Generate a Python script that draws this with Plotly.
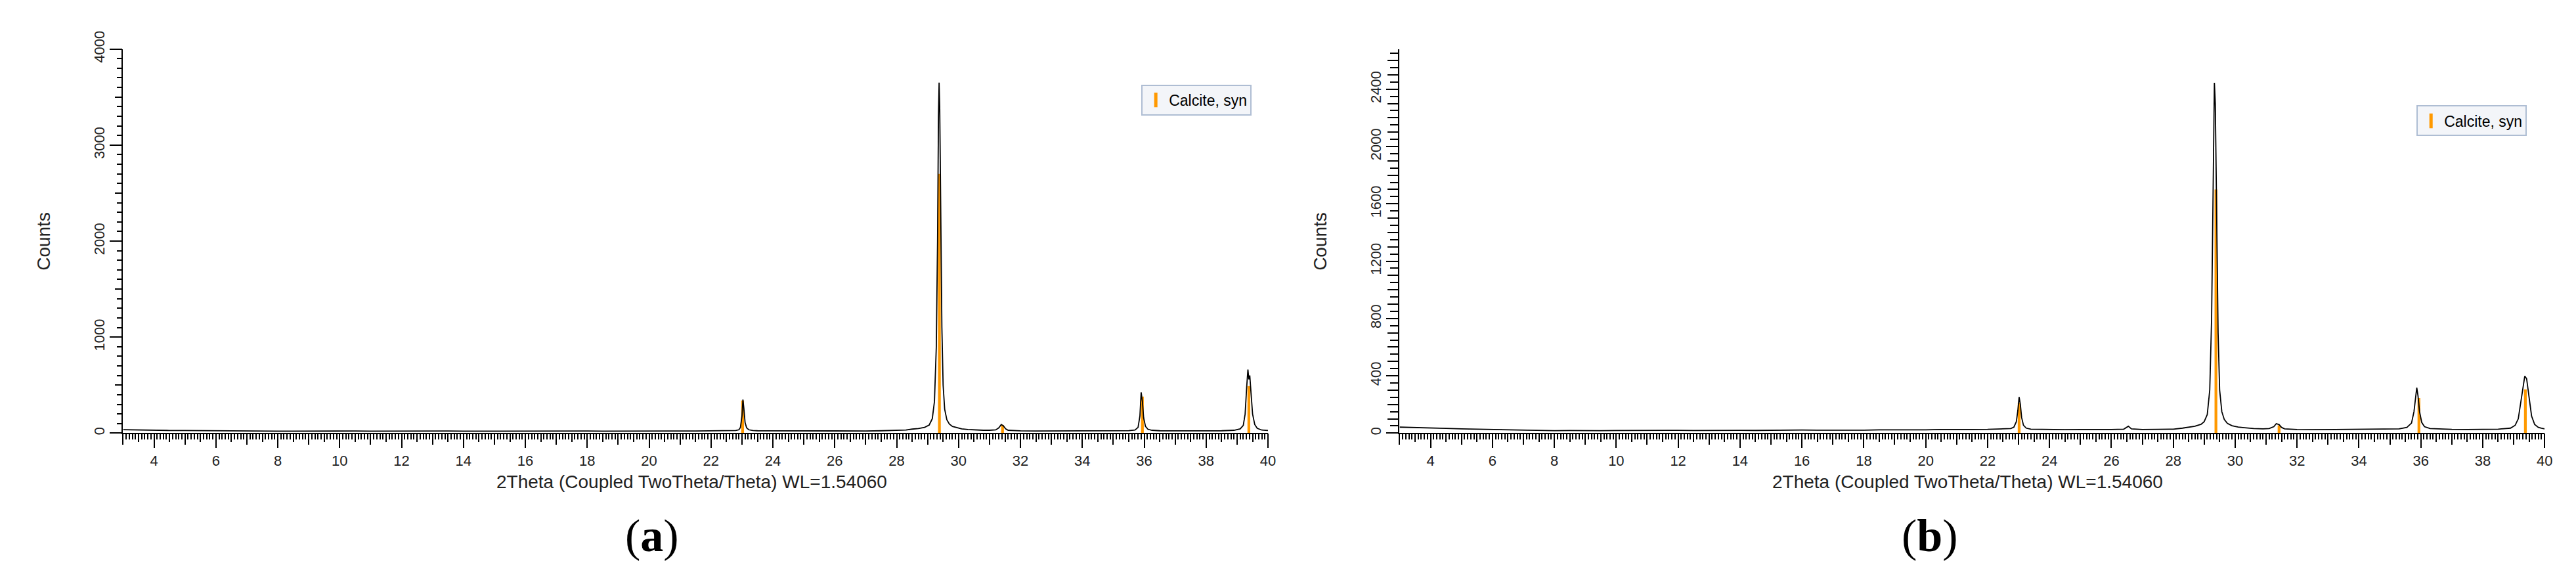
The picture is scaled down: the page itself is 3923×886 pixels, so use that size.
import plotly.graph_objects as go

# ---------------- data: panel (a) ----------------
two_theta_a = [3.0, 3.5, 4.0, 4.5, 5.0, 5.5, 6.0, 6.5, 7.0, 7.5, 8.0, 8.5, 9.0, 9.5, 10.0, 10.5,
               11.0, 11.5, 12.0, 12.5, 13.0, 13.5, 14.0, 14.5, 15.0, 15.5, 16.0, 16.5, 17.0, 17.5,
               18.0, 18.5, 19.0, 19.5, 20.0, 20.5, 21.0, 21.5, 22.0, 22.5,
               22.8, 22.9, 22.95, 23.0, 23.03, 23.06, 23.1, 23.15, 23.22, 23.35,
               23.5, 24.0, 24.5, 25.0, 25.5, 26.0, 26.5, 27.0, 27.5, 28.0, 28.3, 28.5, 28.7, 28.9,
               29.05, 29.15, 29.22, 29.28, 29.32, 29.35, 29.37, 29.39, 29.42, 29.46, 29.5, 29.55,
               29.62, 29.7, 29.8, 29.95, 30.1, 30.3, 30.5, 30.8, 31.0, 31.2, 31.3, 31.38, 31.45,
               31.52, 31.6, 31.8, 32.0, 32.5, 33.0, 33.5, 34.0, 34.5, 35.0, 35.5, 35.7, 35.8, 35.86,
               35.9, 35.94, 35.98, 36.04, 36.12, 36.25, 36.5, 37.0, 37.5, 38.0, 38.5, 38.9, 39.1,
               39.2, 39.26, 39.31, 39.35, 39.38, 39.41, 39.45, 39.5, 39.57, 39.65, 39.8, 40.0]
counts_a = [36, 32, 31, 28, 27, 25, 24, 22, 23, 21, 20, 21, 22, 21, 20, 22,
            20, 21, 22, 20, 21, 22, 20, 21, 22, 21, 20, 22, 21, 22,
            23, 21, 22, 23, 22, 24, 23, 22, 24, 25,
            27, 35, 60, 180, 350, 260, 110, 55, 35, 27,
            25, 24, 23, 24, 22, 23, 24, 23, 25, 27, 32, 42, 48, 60,
            85, 150, 330, 900, 2000, 3300, 3650, 3400, 2300, 1100, 500, 250,
            140, 95, 70, 55, 45, 38, 33, 30, 30, 34, 55, 90, 75,
            45, 30, 26, 24, 23, 24, 22, 23, 24, 23, 26, 32, 60, 180,
            424, 330, 160, 70, 40, 30, 25, 24, 23, 24, 25, 30, 45,
            80, 200, 480, 662, 560, 600, 420, 200, 90, 50, 32, 27]

# ---------------- data: panel (b) ----------------
two_theta_b = [3.0, 3.5, 4.0, 4.5, 5.0, 5.5, 6.0, 6.5, 7.0, 7.5, 8.0, 8.5, 9.0, 9.5, 10.0, 10.5,
               11.0, 11.5, 12.0, 12.5, 13.0, 13.5, 14.0, 14.5, 15.0, 15.5, 16.0, 16.5, 17.0, 17.5,
               18.0, 18.5, 19.0, 19.5, 20.0, 20.5, 21.0, 21.5, 22.0, 22.5,
               22.75, 22.85, 22.93, 22.98, 23.02, 23.06, 23.1, 23.16, 23.25, 23.4,
               23.7, 24.0, 24.5, 25.0, 25.5, 26.0, 26.4, 26.55, 26.65, 27.0, 27.5, 28.0, 28.3, 28.5,
               28.7, 28.9, 29.0, 29.1, 29.18, 29.24, 29.29, 29.33, 29.36, 29.4, 29.45, 29.5, 29.57,
               29.65, 29.75, 29.9, 30.1, 30.3, 30.6, 30.9, 31.1, 31.25, 31.33, 31.42, 31.5, 31.6,
               31.8, 32.0, 32.5, 33.0, 33.5, 34.0, 34.5, 35.0, 35.3, 35.55, 35.7, 35.78, 35.84,
               35.87, 35.91, 35.96, 36.03, 36.12, 36.3, 36.6, 37.0, 37.5, 38.0, 38.5, 38.9, 39.05,
               39.15, 39.22, 39.3, 39.36, 39.42, 39.5, 39.58, 39.68, 39.8, 39.9, 40.0]
counts_b = [42, 40, 36, 33, 30, 28, 25, 22, 20, 18, 17, 18, 16, 17, 18, 19,
            17, 19, 20, 18, 19, 21, 20, 19, 21, 20, 22, 21, 20, 22,
            21, 23, 22, 24, 23, 25, 24, 25, 26, 28,
            32, 42, 80, 160, 252, 200, 110, 55, 35, 28,
            26, 25, 24, 25, 24, 25, 28, 48, 30, 25, 26, 28, 35, 40,
            48, 62, 80, 130, 300, 800, 1700, 2444, 2300, 1500, 700, 300, 150,
            95, 68, 52, 42, 38, 32, 30, 32, 45, 66, 60, 40, 30,
            27, 25, 24, 25, 24, 25, 26, 27, 30, 40, 70, 150, 270,
            318, 260, 150, 75, 45, 32, 28, 26, 25, 26, 28, 35, 55,
            100, 200, 330, 398, 380, 250, 120, 60, 40, 34, 30]

# ---------------- reference pattern: Calcite, syn ----------------
stick_positions = [23.02, 29.38, 31.42, 35.94, 39.38]
stick_heights_a = [340, 2700, 85, 380, 490]
stick_heights_b = [212, 1700, 55, 245, 305]

phase_name = "Calcite, syn"
x_title = "2Theta (Coupled TwoTheta/Theta) WL=1.54060"
y_title = "Counts"
panel_labels = ["(<b>a</b>)", "(<b>b</b>)"]

W, H = 3923, 886
ORANGE = "#ff9900"
FONT = "Liberation Sans, Arial, sans-serif"

# pixel geometry -> paper fractions
def px(x):
    return x / W

def py(y):
    return (H - y) / H

xa_dom = [px(180), px(1929)]
xb_dom = [px(2130), px(3879)]
y_dom = [py(646), py(40)]

fig = go.Figure()

# diffractograms
fig.add_trace(go.Scatter(x=two_theta_a, y=counts_a, mode="lines",
                         line=dict(color="black", width=1.8), showlegend=False,
                         xaxis="x", yaxis="y"))
fig.add_trace(go.Scatter(x=two_theta_b, y=counts_b, mode="lines",
                         line=dict(color="black", width=1.8), showlegend=False,
                         xaxis="x2", yaxis="y2"))

# reference sticks
fig.add_trace(go.Bar(x=stick_positions, y=stick_heights_a, width=0.09,
                     marker=dict(color=ORANGE, line=dict(width=0)), showlegend=False,
                     xaxis="x", yaxis="y"))
fig.add_trace(go.Bar(x=stick_positions, y=stick_heights_b, width=0.09,
                     marker=dict(color=ORANGE, line=dict(width=0)), showlegend=False,
                     xaxis="x2", yaxis="y2"))

# legend entries
for lg in ["legend", "legend2"]:
    fig.add_trace(go.Scatter(x=[None], y=[None], mode="markers", name=phase_name,
                             marker=dict(symbol="line-ns-open", size=16, color=ORANGE,
                                         line=dict(color=ORANGE, width=5)),
                             legend=lg,
                             xaxis="x" if lg == "legend" else "x2",
                             yaxis="y" if lg == "legend" else "y2"))

# invisible helper traces for overlay tick axes
for xa, ya in [("x3", "y"), ("x5", "y"), ("x", "y3"),
               ("x4", "y2"), ("x6", "y2"), ("x2", "y4")]:
    fig.add_trace(go.Scatter(x=[None], y=[None], mode="markers", showlegend=False,
                             hoverinfo="skip", xaxis=xa, yaxis=ya))

tickfont = dict(family=FONT, size=22, color="#222")

def main_x(domain, anchor):
    return dict(domain=domain, anchor=anchor, range=[3, 40], type="linear",
                tick0=0, dtick=2, ticks="outside", ticklen=21, tickwidth=2,
                tickcolor="black", showline=True, linecolor="black", linewidth=2,
                showgrid=False, zeroline=False, tickfont=tickfont,
                minor=dict(dtick=0.1, tick0=0, ticks="outside", ticklen=8,
                           tickwidth=1.5, tickcolor="black", showgrid=False))

def overlay_x(over, anchor, dtick, ticklen):
    return dict(overlaying=over, anchor=anchor, range=[3, 40], type="linear",
                tick0=0, dtick=dtick, ticks="outside", ticklen=ticklen, tickwidth=2,
                tickcolor="black", showticklabels=False, showline=False,
                showgrid=False, zeroline=False, side="bottom")

def main_y(domain, anchor, rng, dtick, minor_dtick, minor_len):
    return dict(domain=domain, anchor=anchor, range=rng, type="linear",
                tick0=0, dtick=dtick, ticks="outside", ticklen=18, tickwidth=2,
                tickcolor="black", showline=True, linecolor="black", linewidth=2,
                showgrid=False, zeroline=False, tickfont=tickfont, tickangle=-90,
                minor=dict(dtick=minor_dtick, tick0=0, ticks="outside", ticklen=minor_len,
                           tickwidth=1.5, tickcolor="black", showgrid=False))

def overlay_y(over, anchor, rng, dtick, ticklen):
    return dict(overlaying=over, anchor=anchor, range=rng, type="linear",
                tick0=0, dtick=dtick, ticks="outside", ticklen=ticklen, tickwidth=2,
                tickcolor="black", showticklabels=False, showline=False,
                showgrid=False, zeroline=False, side="left")

ya_range = [0, 4000]
yb_range = [0, 2680]

fig.update_layout(
    width=W, height=H,
    margin=dict(l=0, r=0, t=0, b=0),
    paper_bgcolor="white", plot_bgcolor="white",
    barmode="overlay",
    font=dict(family=FONT, color="#222"),
    xaxis=main_x(xa_dom, "y"),
    xaxis2=main_x(xb_dom, "y2"),
    xaxis3=overlay_x("x", "y", 1, 17),
    xaxis5=overlay_x("x", "y", 0.5, 13),
    xaxis4=overlay_x("x2", "y2", 1, 17),
    xaxis6=overlay_x("x2", "y2", 0.5, 13),
    yaxis=main_y(y_dom, "x", ya_range, 1000, 100, 7),
    yaxis2=main_y(y_dom, "x2", yb_range, 400, 50, 12),
    yaxis3=overlay_y("y", "x", ya_range, 500, 11),
    yaxis4=overlay_y("y2", "x2", yb_range, 100, 17),
    legend=dict(x=px(1904), y=py(96), xanchor="right", yanchor="top",
                bgcolor="#f3f5f9", bordercolor="#aebdd3", borderwidth=2,
                font=dict(family=FONT, size=23, color="black")),
    legend2=dict(x=px(3852), y=py(129), xanchor="right", yanchor="top",
                 bgcolor="#f3f5f9", bordercolor="#aebdd3", borderwidth=2,
                 font=dict(family=FONT, size=23, color="black")),
    showlegend=True,
)

annotations = []
for cx in [1049, 2998]:
    annotations.append(dict(text=x_title, x=px(cx), y=py(723), xref="paper", yref="paper",
                            showarrow=False, xanchor="center", yanchor="middle",
                            font=dict(family=FONT, size=28, color="#222")))
for cx in [59, 2009]:
    annotations.append(dict(text=y_title, x=px(cx), y=py(343), xref="paper", yref="paper",
                            showarrow=False, textangle=-90, xanchor="center", yanchor="middle",
                            font=dict(family=FONT, size=28, color="#222")))
for cx, lab in zip([988, 2940], panel_labels):
    annotations.append(dict(text=lab, x=px(cx), y=py(808), xref="paper", yref="paper",
                            showarrow=False, xanchor="center", yanchor="middle",
                            font=dict(family="Liberation Serif, Times New Roman, serif",
                                      size=70, color="black")))
fig.update_layout(annotations=annotations)

fig.write_html("out.html")
